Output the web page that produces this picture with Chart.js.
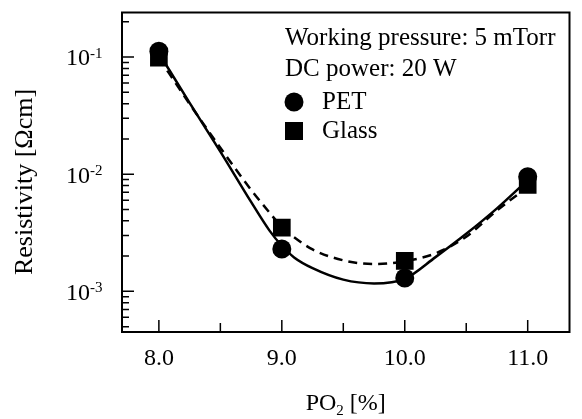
<!DOCTYPE html>
<html>
<head>
<meta charset="utf-8">
<script src="https://cdn.jsdelivr.net/npm/chart.js@4.4.1/dist/chart.umd.min.js"></script>
<style>
  html, body { margin: 0; padding: 0; background: #fff; }
  #wrap { width: 582px; height: 419px; }
</style>
</head>
<body>
<div id="wrap"><canvas id="chart" width="582" height="419"></canvas></div>
<script>
const FONT = "'Liberation Serif', 'Times New Roman', serif";

// measured points
const po2 = [8.0, 9.0, 10.0, 11.0];
const petRes = [0.112, 0.0023, 0.0013, 0.0095];
const glassRes = [0.099, 0.0035, 0.00182, 0.0081];

// fitted curves
const fitX = [8.0, 8.25, 8.5, 8.75, 8.9, 9.0, 9.1, 9.25, 9.5, 9.75, 10.0, 10.25, 10.5, 10.75, 11.0];
const petFit = [0.108, 0.0406, 0.0156, 0.0058, 0.0033, 0.00245, 0.00195, 0.00158, 0.00126, 0.00117, 0.00128, 0.00196, 0.0031, 0.00511, 0.00891];
const glassFit = [0.098, 0.0398, 0.0168, 0.00736, 0.0047, 0.00355, 0.0029, 0.00228, 0.00184, 0.00171, 0.00181, 0.00211, 0.00293, 0.0049, 0.0078];

// axis ticks
const xTicks = [8, 9, 10, 11];
const xHalfTicks = [8.5, 9.5, 10.5];
const yDecades = [1e-3, 1e-2, 1e-1];
const yExponents = ['-3', '-2', '-1'];

const pts = (xs, ys) => xs.map((x, i) => ({ x: x, y: ys[i] }));

// box, inward ticks, y labels, axis titles and the note/legend
const decor = {
  id: 'decor',
  afterDraw(chart) {
    const ctx = chart.ctx;
    const a = chart.chartArea;
    const xs = chart.scales.x, ys = chart.scales.y;
    ctx.save();
    ctx.strokeStyle = '#000';
    ctx.fillStyle = '#000';

    ctx.lineWidth = 2;
    ctx.strokeRect(a.left, a.top, a.right - a.left, a.bottom - a.top);

    ctx.lineWidth = 1.5;
    ctx.beginPath();
    xTicks.forEach(v => {
      const px = xs.getPixelForValue(v);
      ctx.moveTo(px, a.bottom); ctx.lineTo(px, a.bottom - 12);
    });
    xHalfTicks.forEach(v => {
      const px = xs.getPixelForValue(v);
      ctx.moveTo(px, a.bottom); ctx.lineTo(px, a.bottom - 9);
    });
    [1e-4, 1e-3, 1e-2, 1e-1].forEach(d => {
      for (let m = 1; m <= 9; m++) {
        const v = m * d;
        if (v < ys.min || v > ys.max) continue;
        const py = ys.getPixelForValue(v);
        ctx.moveTo(a.left, py); ctx.lineTo(a.left + (m === 1 ? 12 : 7), py);
      }
    });
    ctx.stroke();

    // y tick labels 10^n
    ctx.textBaseline = 'middle';
    yDecades.forEach((v, i) => {
      const py = ys.getPixelForValue(v);
      ctx.font = '24px ' + FONT;
      ctx.textAlign = 'right';
      ctx.fillText('10', 90, py + 2);
      ctx.font = '15px ' + FONT;
      ctx.textAlign = 'left';
      ctx.fillText(yExponents[i], 90, py - 3);
    });

    // y axis title
    ctx.save();
    ctx.translate(25, 182);
    ctx.rotate(-Math.PI / 2);
    ctx.textAlign = 'center';
    ctx.font = '26px ' + FONT;
    ctx.fillText('Resistivity [Ωcm]', 0, 0);
    ctx.restore();

    // x axis title PO2 [%]
    ctx.textAlign = 'left';
    ctx.font = '24px ' + FONT;
    const w1 = ctx.measureText('PO').width;
    const w3 = ctx.measureText(' [%]').width;
    ctx.font = '15px ' + FONT;
    const w2 = ctx.measureText('2').width;
    let tx = (a.left + a.right) / 2 - (w1 + w2 + w3) / 2;
    const ty = 404;
    ctx.font = '24px ' + FONT;
    ctx.fillText('PO', tx, ty);
    ctx.font = '15px ' + FONT;
    ctx.fillText('2', tx + w1, ty + 7);
    ctx.font = '24px ' + FONT;
    ctx.fillText(' [%]', tx + w1 + w2, ty);

    // conditions and legend
    ctx.font = '25px ' + FONT;
    ctx.fillText('Working pressure: 5 mTorr', 285, 38);
    ctx.fillText('DC power: 20 W', 285, 69);
    ctx.fillText('PET', 322, 102);
    ctx.fillText('Glass', 322, 131);
    ctx.beginPath();
    ctx.arc(294, 102, 9.5, 0, Math.PI * 2);
    ctx.fill();
    ctx.fillRect(285, 122, 18, 18);
    ctx.restore();
  }
};

new Chart(document.getElementById('chart'), {
  type: 'scatter',
  data: {
    datasets: [
      {
        label: 'PET fit',
        data: pts(fitX, petFit),
        showLine: true,
        borderColor: '#000',
        borderWidth: 2.5,
        pointRadius: 0,
        cubicInterpolationMode: 'monotone'
      },
      {
        label: 'Glass fit',
        data: pts(fitX, glassFit),
        showLine: true,
        borderColor: '#000',
        borderWidth: 2.5,
        borderDash: [9, 6],
        pointRadius: 0,
        cubicInterpolationMode: 'monotone'
      },
      {
        label: 'Glass',
        data: pts(po2, glassRes),
        pointStyle: 'rect',
        pointRadius: 12.5,
        backgroundColor: '#000',
        borderColor: '#000',
        borderWidth: 0
      },
      {
        label: 'PET',
        data: pts(po2, petRes),
        pointStyle: 'circle',
        pointRadius: 9.5,
        backgroundColor: '#000',
        borderColor: '#000',
        borderWidth: 0
      }
    ]
  },
  options: {
    responsive: false,
    animation: false,
    devicePixelRatio: 1,
    layout: { padding: { top: 6, right: 5, left: 0, bottom: 0 } },
    plugins: {
      legend: { display: false },
      tooltip: { enabled: false }
    },
    scales: {
      x: {
        type: 'linear',
        min: 7.7,
        max: 11.34,
        grid: { display: false, drawTicks: false },
        border: { display: false },
        afterBuildTicks: s => { s.ticks = xTicks.map(v => ({ value: v })); },
        afterFit: s => { s.height = 87; },
        ticks: {
          color: '#000',
          padding: 12,
          font: { family: FONT, size: 24 },
          callback: v => v.toFixed(1)
        }
      },
      y: {
        type: 'logarithmic',
        min: 0.00045,
        max: 0.24,
        grid: { display: false, drawTicks: false },
        border: { display: false },
        afterFit: s => { s.width = 122; },
        ticks: { display: false }
      }
    }
  },
  plugins: [decor]
});
</script>
</body>
</html>
